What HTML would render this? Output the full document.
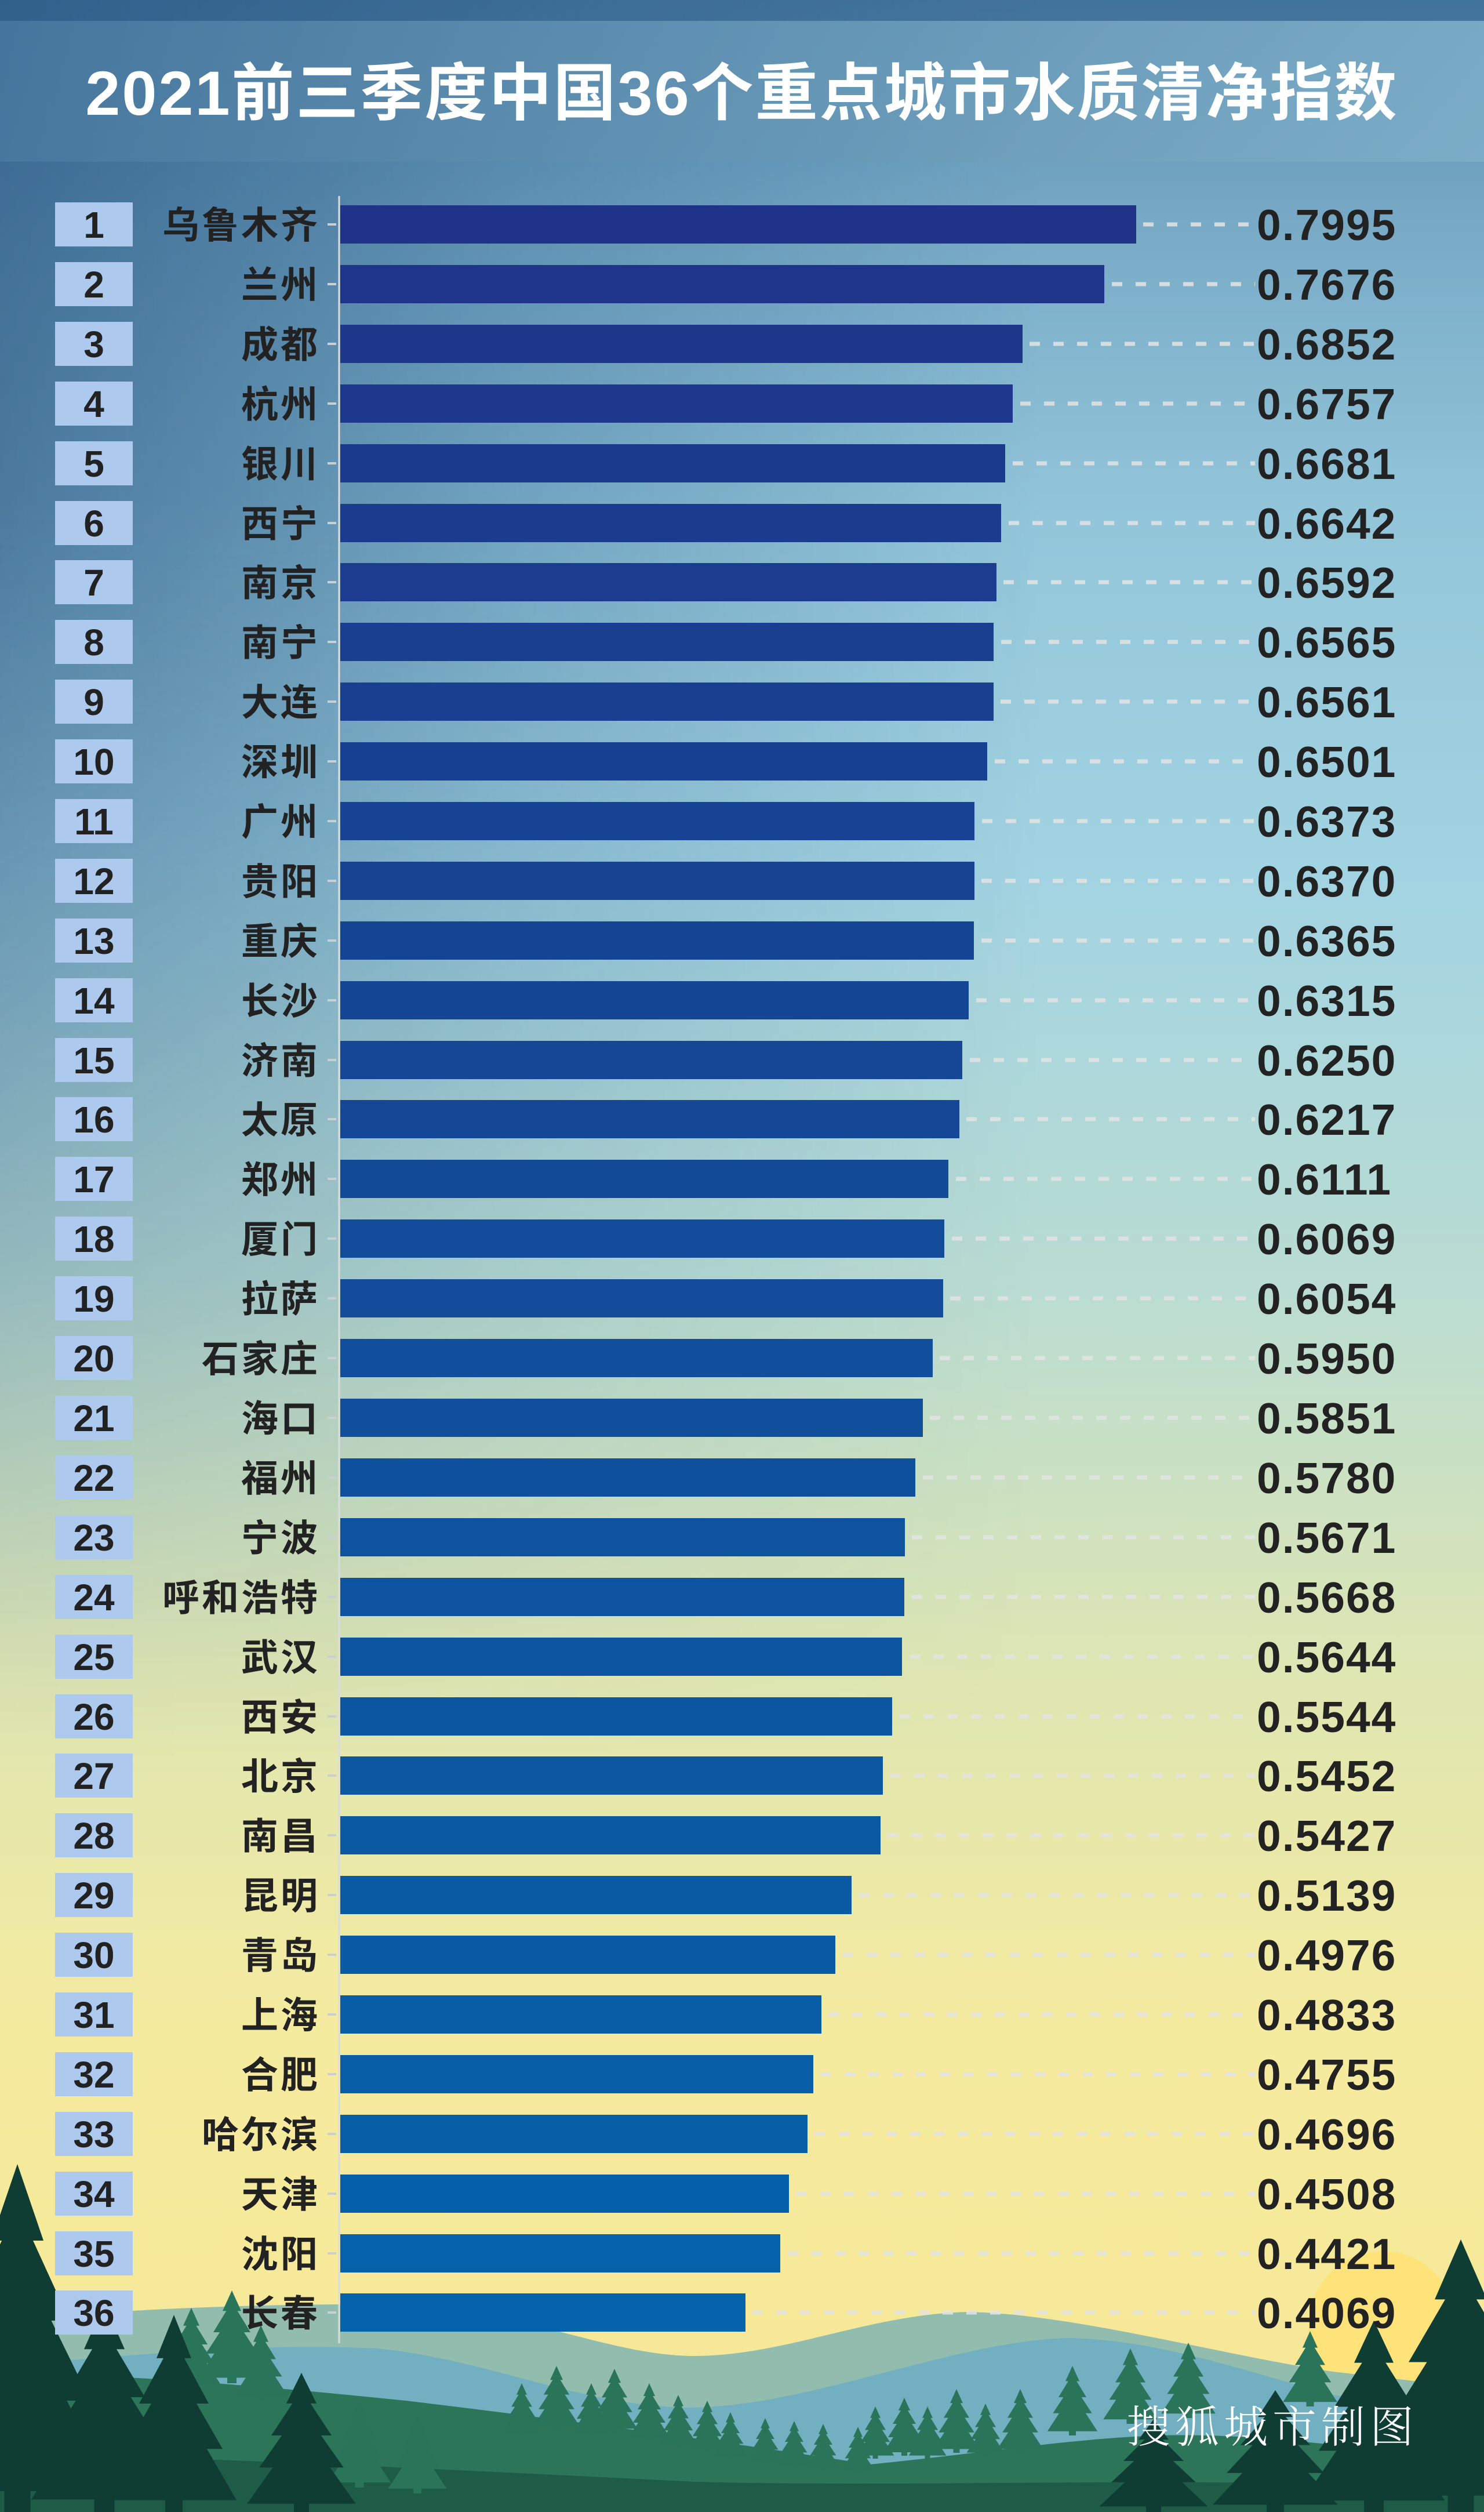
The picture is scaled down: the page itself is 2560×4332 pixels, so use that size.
<!DOCTYPE html>
<html><head><meta charset="utf-8">
<style>
html,body{margin:0;padding:0;}
body{width:2560px;height:4332px;overflow:hidden;position:relative;}
.bg{position:absolute;left:0;top:0;width:2560px;height:4332px;
background:linear-gradient(to bottom,#5a8cb1 0px,#79abc7 400px,#93c6da 900px,#a2d3e2 1500px,#b9dcd3 2200px,#dfe6b2 2900px,#f5eb9f 3500px,#f6e794 4332px);}
.ov{position:absolute;left:0;top:0;width:2560px;height:4332px;
background:linear-gradient(to right,rgba(28,72,118,0.6) 0%,rgba(40,90,135,0.3) 35%,rgba(60,110,150,0) 70%);
-webkit-mask-image:linear-gradient(to bottom,#000 0%,#000 20%,rgba(0,0,0,0.5) 45%,transparent 70%);
mask-image:linear-gradient(to bottom,#000 0%,#000 20%,rgba(0,0,0,0.5) 45%,transparent 70%);}
svg{position:absolute;left:0;top:0;}
.t{font-family:"Liberation Sans","Noto Sans CJK SC",sans-serif;font-weight:bold;fill:#fff;font-size:108px;letter-spacing:3px;}
.r{font-family:"Liberation Sans",sans-serif;font-weight:bold;font-size:64px;fill:#222;}
.c{font-family:"Liberation Sans","Noto Sans CJK SC",sans-serif;font-weight:bold;font-size:64px;fill:#222;letter-spacing:4px;}
.v{font-family:"Liberation Sans",sans-serif;font-weight:bold;font-size:75px;fill:#222;letter-spacing:2px;}
.w{font-family:"Noto Serif CJK SC","Liberation Serif",serif;font-weight:300;font-size:76px;fill:#fff;letter-spacing:8px;}
</style></head><body>
<div class="bg"></div><div class="ov"></div>
<svg width="2560" height="4332" viewBox="0 0 2560 4332" xmlns="http://www.w3.org/2000/svg">
<defs>
<linearGradient id="hb" x1="0" x2="1" y1="0" y2="0"><stop offset="0" stop-color="#4a7aa0"/><stop offset="1" stop-color="#7fb0c9"/></linearGradient>
<path id="tree" d="M0,-100 L10,-78 L6,-78 L20,-55 L13,-55 L28,-32 L19,-32 L36,-6 L5,-6 L5,0 L-5,0 L-5,-6 L-36,-6 L-19,-32 L-28,-32 L-13,-55 L-20,-55 L-6,-78 L-10,-78 Z"/>
</defs>
<rect x="0" y="0" width="2560" height="36" fill="#2f5f8a" opacity="0.55"/>
<rect x="0" y="36" width="2560" height="243" fill="url(#hb)" opacity="0.8"/>
<text class="t" x="1280" y="198" text-anchor="middle">2021前三季度中国36个重点城市水质清净指数</text>

<circle cx="2385" cy="4010" r="128" fill="#fde37a"/>
<path d="M0,4000 C200,3985 450,3970 700,3975 C900,3985 1050,4060 1190,4063 C1350,4065 1500,3990 1670,3987 C1850,3990 2100,4060 2300,4090 L2560,4120 L2560,4332 L0,4332 Z" fill="#91bcae"/>
<path d="M0,4080 C250,4060 450,4040 650,4050 C850,4070 1000,4150 1190,4152 C1400,4150 1650,4035 1845,4032 C2000,4035 2150,4090 2300,4130 L2560,4170 L2560,4332 L0,4332 Z" fill="#72afc1"/>
<path d="M0,4090 C300,4100 500,4120 700,4140 C950,4170 1250,4210 1500,4250 C1700,4230 1850,4205 2000,4200 C2200,4195 2400,4230 2560,4250 L2560,4332 L0,4332 Z" fill="#2d7558"/>
<path d="M0,4230 C400,4240 800,4260 1200,4280 C1600,4290 2000,4270 2560,4290 L2560,4332 L0,4332 Z" fill="#1e5c47"/>
<g fill="#2a7459">
<use href="#tree" transform="translate(900,4200) scale(0.9)"/><use href="#tree" transform="translate(960,4190) scale(1.1)"/><use href="#tree" transform="translate(1020,4200) scale(0.9)"/><use href="#tree" transform="translate(1060,4195) scale(1.1)"/><use href="#tree" transform="translate(1120,4210) scale(1)"/><use href="#tree" transform="translate(1170,4220) scale(0.9)"/><use href="#tree" transform="translate(1220,4230) scale(0.9)"/><use href="#tree" transform="translate(1260,4240) scale(0.8)"/><use href="#tree" transform="translate(1320,4250) scale(0.8)"/><use href="#tree" transform="translate(1370,4255) scale(0.8)"/><use href="#tree" transform="translate(1420,4260) scale(0.8)"/><use href="#tree" transform="translate(1480,4265) scale(0.8)"/>
<use href="#tree" transform="translate(1510,4240) scale(0.9)"/><use href="#tree" transform="translate(1560,4235) scale(1)"/><use href="#tree" transform="translate(1600,4240) scale(0.9)"/><use href="#tree" transform="translate(1650,4230) scale(1.1)"/><use href="#tree" transform="translate(1700,4235) scale(0.9)"/><use href="#tree" transform="translate(1760,4230) scale(1.1)"/><use href="#tree" transform="translate(1850,4200) scale(1.2)"/><use href="#tree" transform="translate(1950,4180) scale(1.3)"/><use href="#tree" transform="translate(2050,4170) scale(1.3)"/><use href="#tree" transform="translate(2260,4150) scale(1.3)"/>
<use href="#tree" transform="translate(330,4120) scale(1.4)"/><use href="#tree" transform="translate(400,4110) scale(1.6)"/><use href="#tree" transform="translate(450,4140) scale(1.3)"/><use href="#tree" transform="translate(620,4290) scale(1.5)"/><use href="#tree" transform="translate(720,4300) scale(1.4)"/>
</g>
<g fill="#0f3d33">
<use href="#tree" transform="translate(30,4332) scale(4.5,6)"/><use href="#tree" transform="translate(180,4332) scale(3.5,3.6)"/><use href="#tree" transform="translate(300,4332) scale(3,3.4)"/><use href="#tree" transform="translate(520,4332) scale(2.6,2.4)"/>
<use href="#tree" transform="translate(2520,4332) scale(4.5,4.7)"/><use href="#tree" transform="translate(2370,4332) scale(3.4,3.3)"/><use href="#tree" transform="translate(2200,4332) scale(3,2.1)"/><use href="#tree" transform="translate(1990,4332) scale(2.6,1.6)"/>
</g>
<text class="w" x="1943" y="4212">搜狐城市制图</text>

<line x1="585" y1="338" x2="585" y2="4041" stroke="#d8dde0" stroke-width="3"/>
</svg>
<svg width="2560" height="4332" viewBox="0 0 2560 4332" xmlns="http://www.w3.org/2000/svg">
<g stroke="#e4e4e4" stroke-width="7" stroke-dasharray="18 23" opacity="0.85">
<line x1="1972" y1="387" x2="2165" y2="387"/><line x1="1918" y1="490" x2="2165" y2="490"/><line x1="1776" y1="593" x2="2165" y2="593"/><line x1="1760" y1="696" x2="2165" y2="696"/><line x1="1747" y1="799" x2="2165" y2="799"/><line x1="1740" y1="902" x2="2165" y2="902"/><line x1="1731" y1="1004" x2="2165" y2="1004"/><line x1="1727" y1="1107" x2="2165" y2="1107"/><line x1="1726" y1="1210" x2="2165" y2="1210"/><line x1="1716" y1="1313" x2="2165" y2="1313"/><line x1="1694" y1="1416" x2="2165" y2="1416"/><line x1="1693" y1="1519" x2="2165" y2="1519"/><line x1="1693" y1="1622" x2="2165" y2="1622"/><line x1="1684" y1="1725" x2="2165" y2="1725"/><line x1="1673" y1="1828" x2="2165" y2="1828"/><line x1="1667" y1="1930" x2="2165" y2="1930"/><line x1="1649" y1="2033" x2="2165" y2="2033"/><line x1="1642" y1="2136" x2="2165" y2="2136"/><line x1="1639" y1="2239" x2="2165" y2="2239"/><line x1="1621" y1="2342" x2="2165" y2="2342"/><line x1="1604" y1="2445" x2="2165" y2="2445"/><line x1="1592" y1="2548" x2="2165" y2="2548"/><line x1="1573" y1="2651" x2="2165" y2="2651"/><line x1="1573" y1="2754" x2="2165" y2="2754"/><line x1="1569" y1="2857" x2="2165" y2="2857"/><line x1="1552" y1="2960" x2="2165" y2="2960"/><line x1="1536" y1="3062" x2="2165" y2="3062"/><line x1="1531" y1="3165" x2="2165" y2="3165"/><line x1="1482" y1="3268" x2="2165" y2="3268"/><line x1="1454" y1="3371" x2="2165" y2="3371"/><line x1="1429" y1="3474" x2="2165" y2="3474"/><line x1="1416" y1="3577" x2="2165" y2="3577"/><line x1="1406" y1="3680" x2="2165" y2="3680"/><line x1="1374" y1="3783" x2="2165" y2="3783"/><line x1="1359" y1="3886" x2="2165" y2="3886"/><line x1="1298" y1="3988" x2="2165" y2="3988"/>
</g>
<g stroke="#c9cfd3" stroke-width="4">
<line x1="565" y1="387" x2="580" y2="387"/><line x1="565" y1="490" x2="580" y2="490"/><line x1="565" y1="593" x2="580" y2="593"/><line x1="565" y1="696" x2="580" y2="696"/><line x1="565" y1="799" x2="580" y2="799"/><line x1="565" y1="902" x2="580" y2="902"/><line x1="565" y1="1004" x2="580" y2="1004"/><line x1="565" y1="1107" x2="580" y2="1107"/><line x1="565" y1="1210" x2="580" y2="1210"/><line x1="565" y1="1313" x2="580" y2="1313"/><line x1="565" y1="1416" x2="580" y2="1416"/><line x1="565" y1="1519" x2="580" y2="1519"/><line x1="565" y1="1622" x2="580" y2="1622"/><line x1="565" y1="1725" x2="580" y2="1725"/><line x1="565" y1="1828" x2="580" y2="1828"/><line x1="565" y1="1930" x2="580" y2="1930"/><line x1="565" y1="2033" x2="580" y2="2033"/><line x1="565" y1="2136" x2="580" y2="2136"/><line x1="565" y1="2239" x2="580" y2="2239"/><line x1="565" y1="2342" x2="580" y2="2342"/><line x1="565" y1="2445" x2="580" y2="2445"/><line x1="565" y1="2548" x2="580" y2="2548"/><line x1="565" y1="2651" x2="580" y2="2651"/><line x1="565" y1="2754" x2="580" y2="2754"/><line x1="565" y1="2857" x2="580" y2="2857"/><line x1="565" y1="2960" x2="580" y2="2960"/><line x1="565" y1="3062" x2="580" y2="3062"/><line x1="565" y1="3165" x2="580" y2="3165"/><line x1="565" y1="3268" x2="580" y2="3268"/><line x1="565" y1="3371" x2="580" y2="3371"/><line x1="565" y1="3474" x2="580" y2="3474"/><line x1="565" y1="3577" x2="580" y2="3577"/><line x1="565" y1="3680" x2="580" y2="3680"/><line x1="565" y1="3783" x2="580" y2="3783"/><line x1="565" y1="3886" x2="580" y2="3886"/><line x1="565" y1="3988" x2="580" y2="3988"/>
</g>
<g>
<rect x="587" y="354" width="1373" height="66" fill="#1f3489"/>
<rect x="587" y="457" width="1318" height="66" fill="#1e358a"/>
<rect x="587" y="560" width="1177" height="66" fill="#1e378b"/>
<rect x="587" y="663" width="1160" height="66" fill="#1d388c"/>
<rect x="587" y="766" width="1147" height="66" fill="#1c3a8d"/>
<rect x="587" y="869" width="1140" height="66" fill="#1b3b8e"/>
<rect x="587" y="971" width="1132" height="66" fill="#1b3c8f"/>
<rect x="587" y="1074" width="1127" height="66" fill="#1a3e90"/>
<rect x="587" y="1177" width="1127" height="66" fill="#193f91"/>
<rect x="587" y="1280" width="1116" height="66" fill="#184092"/>
<rect x="587" y="1383" width="1094" height="66" fill="#184293"/>
<rect x="587" y="1486" width="1094" height="66" fill="#174393"/>
<rect x="587" y="1589" width="1093" height="66" fill="#164494"/>
<rect x="587" y="1692" width="1084" height="66" fill="#154695"/>
<rect x="587" y="1795" width="1073" height="66" fill="#154796"/>
<rect x="587" y="1897" width="1068" height="66" fill="#144897"/>
<rect x="587" y="2000" width="1049" height="66" fill="#134a98"/>
<rect x="587" y="2103" width="1042" height="66" fill="#124b99"/>
<rect x="587" y="2206" width="1040" height="66" fill="#124c9a"/>
<rect x="587" y="2309" width="1022" height="66" fill="#114e9b"/>
<rect x="587" y="2412" width="1005" height="66" fill="#104f9c"/>
<rect x="587" y="2515" width="992" height="66" fill="#0f509d"/>
<rect x="587" y="2618" width="974" height="66" fill="#0f529e"/>
<rect x="587" y="2721" width="973" height="66" fill="#0e539f"/>
<rect x="587" y="2824" width="969" height="66" fill="#0d54a0"/>
<rect x="587" y="2927" width="952" height="66" fill="#0c56a1"/>
<rect x="587" y="3029" width="936" height="66" fill="#0c57a2"/>
<rect x="587" y="3132" width="932" height="66" fill="#0b58a3"/>
<rect x="587" y="3235" width="882" height="66" fill="#0a5aa4"/>
<rect x="587" y="3338" width="854" height="66" fill="#095ba5"/>
<rect x="587" y="3441" width="830" height="66" fill="#095ca6"/>
<rect x="587" y="3544" width="816" height="66" fill="#085ea7"/>
<rect x="587" y="3647" width="806" height="66" fill="#075fa8"/>
<rect x="587" y="3750" width="774" height="66" fill="#0660a9"/>
<rect x="587" y="3853" width="759" height="66" fill="#0662aa"/>
<rect x="587" y="3955" width="699" height="66" fill="#0563ab"/>
</g>
<g fill="#adc9ee">
<rect x="95" y="349" width="134" height="76"/><rect x="95" y="452" width="134" height="76"/><rect x="95" y="555" width="134" height="76"/><rect x="95" y="658" width="134" height="76"/><rect x="95" y="761" width="134" height="76"/><rect x="95" y="864" width="134" height="76"/><rect x="95" y="966" width="134" height="76"/><rect x="95" y="1069" width="134" height="76"/><rect x="95" y="1172" width="134" height="76"/><rect x="95" y="1275" width="134" height="76"/><rect x="95" y="1378" width="134" height="76"/><rect x="95" y="1481" width="134" height="76"/><rect x="95" y="1584" width="134" height="76"/><rect x="95" y="1687" width="134" height="76"/><rect x="95" y="1790" width="134" height="76"/><rect x="95" y="1892" width="134" height="76"/><rect x="95" y="1995" width="134" height="76"/><rect x="95" y="2098" width="134" height="76"/><rect x="95" y="2201" width="134" height="76"/><rect x="95" y="2304" width="134" height="76"/><rect x="95" y="2407" width="134" height="76"/><rect x="95" y="2510" width="134" height="76"/><rect x="95" y="2613" width="134" height="76"/><rect x="95" y="2716" width="134" height="76"/><rect x="95" y="2819" width="134" height="76"/><rect x="95" y="2922" width="134" height="76"/><rect x="95" y="3024" width="134" height="76"/><rect x="95" y="3127" width="134" height="76"/><rect x="95" y="3230" width="134" height="76"/><rect x="95" y="3333" width="134" height="76"/><rect x="95" y="3436" width="134" height="76"/><rect x="95" y="3539" width="134" height="76"/><rect x="95" y="3642" width="134" height="76"/><rect x="95" y="3745" width="134" height="76"/><rect x="95" y="3848" width="134" height="76"/><rect x="95" y="3950" width="134" height="76"/>
</g>
<g text-anchor="middle">
<text class="r" x="162" y="410">1</text><text class="r" x="162" y="513">2</text><text class="r" x="162" y="616">3</text><text class="r" x="162" y="719">4</text><text class="r" x="162" y="822">5</text><text class="r" x="162" y="925">6</text><text class="r" x="162" y="1027">7</text><text class="r" x="162" y="1130">8</text><text class="r" x="162" y="1233">9</text><text class="r" x="162" y="1336">10</text><text class="r" x="162" y="1439">11</text><text class="r" x="162" y="1542">12</text><text class="r" x="162" y="1645">13</text><text class="r" x="162" y="1748">14</text><text class="r" x="162" y="1851">15</text><text class="r" x="162" y="1953">16</text><text class="r" x="162" y="2056">17</text><text class="r" x="162" y="2159">18</text><text class="r" x="162" y="2262">19</text><text class="r" x="162" y="2365">20</text><text class="r" x="162" y="2468">21</text><text class="r" x="162" y="2571">22</text><text class="r" x="162" y="2674">23</text><text class="r" x="162" y="2777">24</text><text class="r" x="162" y="2880">25</text><text class="r" x="162" y="2983">26</text><text class="r" x="162" y="3085">27</text><text class="r" x="162" y="3188">28</text><text class="r" x="162" y="3291">29</text><text class="r" x="162" y="3394">30</text><text class="r" x="162" y="3497">31</text><text class="r" x="162" y="3600">32</text><text class="r" x="162" y="3703">33</text><text class="r" x="162" y="3806">34</text><text class="r" x="162" y="3909">35</text><text class="r" x="162" y="4011">36</text>
</g>
<g text-anchor="end">
<text class="c" x="552" y="411">乌鲁木齐</text><text class="c" x="552" y="514">兰州</text><text class="c" x="552" y="617">成都</text><text class="c" x="552" y="720">杭州</text><text class="c" x="552" y="823">银川</text><text class="c" x="552" y="926">西宁</text><text class="c" x="552" y="1028">南京</text><text class="c" x="552" y="1131">南宁</text><text class="c" x="552" y="1234">大连</text><text class="c" x="552" y="1337">深圳</text><text class="c" x="552" y="1440">广州</text><text class="c" x="552" y="1543">贵阳</text><text class="c" x="552" y="1646">重庆</text><text class="c" x="552" y="1749">长沙</text><text class="c" x="552" y="1852">济南</text><text class="c" x="552" y="1954">太原</text><text class="c" x="552" y="2057">郑州</text><text class="c" x="552" y="2160">厦门</text><text class="c" x="552" y="2263">拉萨</text><text class="c" x="552" y="2366">石家庄</text><text class="c" x="552" y="2469">海口</text><text class="c" x="552" y="2572">福州</text><text class="c" x="552" y="2675">宁波</text><text class="c" x="552" y="2778">呼和浩特</text><text class="c" x="552" y="2881">武汉</text><text class="c" x="552" y="2984">西安</text><text class="c" x="552" y="3086">北京</text><text class="c" x="552" y="3189">南昌</text><text class="c" x="552" y="3292">昆明</text><text class="c" x="552" y="3395">青岛</text><text class="c" x="552" y="3498">上海</text><text class="c" x="552" y="3601">合肥</text><text class="c" x="552" y="3704">哈尔滨</text><text class="c" x="552" y="3807">天津</text><text class="c" x="552" y="3910">沈阳</text><text class="c" x="552" y="4012">长春</text>
</g>
<g>
<text class="v" x="2168" y="414">0.7995</text><text class="v" x="2168" y="517">0.7676</text><text class="v" x="2168" y="620">0.6852</text><text class="v" x="2168" y="723">0.6757</text><text class="v" x="2168" y="826">0.6681</text><text class="v" x="2168" y="929">0.6642</text><text class="v" x="2168" y="1031">0.6592</text><text class="v" x="2168" y="1134">0.6565</text><text class="v" x="2168" y="1237">0.6561</text><text class="v" x="2168" y="1340">0.6501</text><text class="v" x="2168" y="1443">0.6373</text><text class="v" x="2168" y="1546">0.6370</text><text class="v" x="2168" y="1649">0.6365</text><text class="v" x="2168" y="1752">0.6315</text><text class="v" x="2168" y="1855">0.6250</text><text class="v" x="2168" y="1957">0.6217</text><text class="v" x="2168" y="2060">0.6111</text><text class="v" x="2168" y="2163">0.6069</text><text class="v" x="2168" y="2266">0.6054</text><text class="v" x="2168" y="2369">0.5950</text><text class="v" x="2168" y="2472">0.5851</text><text class="v" x="2168" y="2575">0.5780</text><text class="v" x="2168" y="2678">0.5671</text><text class="v" x="2168" y="2781">0.5668</text><text class="v" x="2168" y="2884">0.5644</text><text class="v" x="2168" y="2987">0.5544</text><text class="v" x="2168" y="3089">0.5452</text><text class="v" x="2168" y="3192">0.5427</text><text class="v" x="2168" y="3295">0.5139</text><text class="v" x="2168" y="3398">0.4976</text><text class="v" x="2168" y="3501">0.4833</text><text class="v" x="2168" y="3604">0.4755</text><text class="v" x="2168" y="3707">0.4696</text><text class="v" x="2168" y="3810">0.4508</text><text class="v" x="2168" y="3913">0.4421</text><text class="v" x="2168" y="4015">0.4069</text>
</g>
</svg>
</body></html>
